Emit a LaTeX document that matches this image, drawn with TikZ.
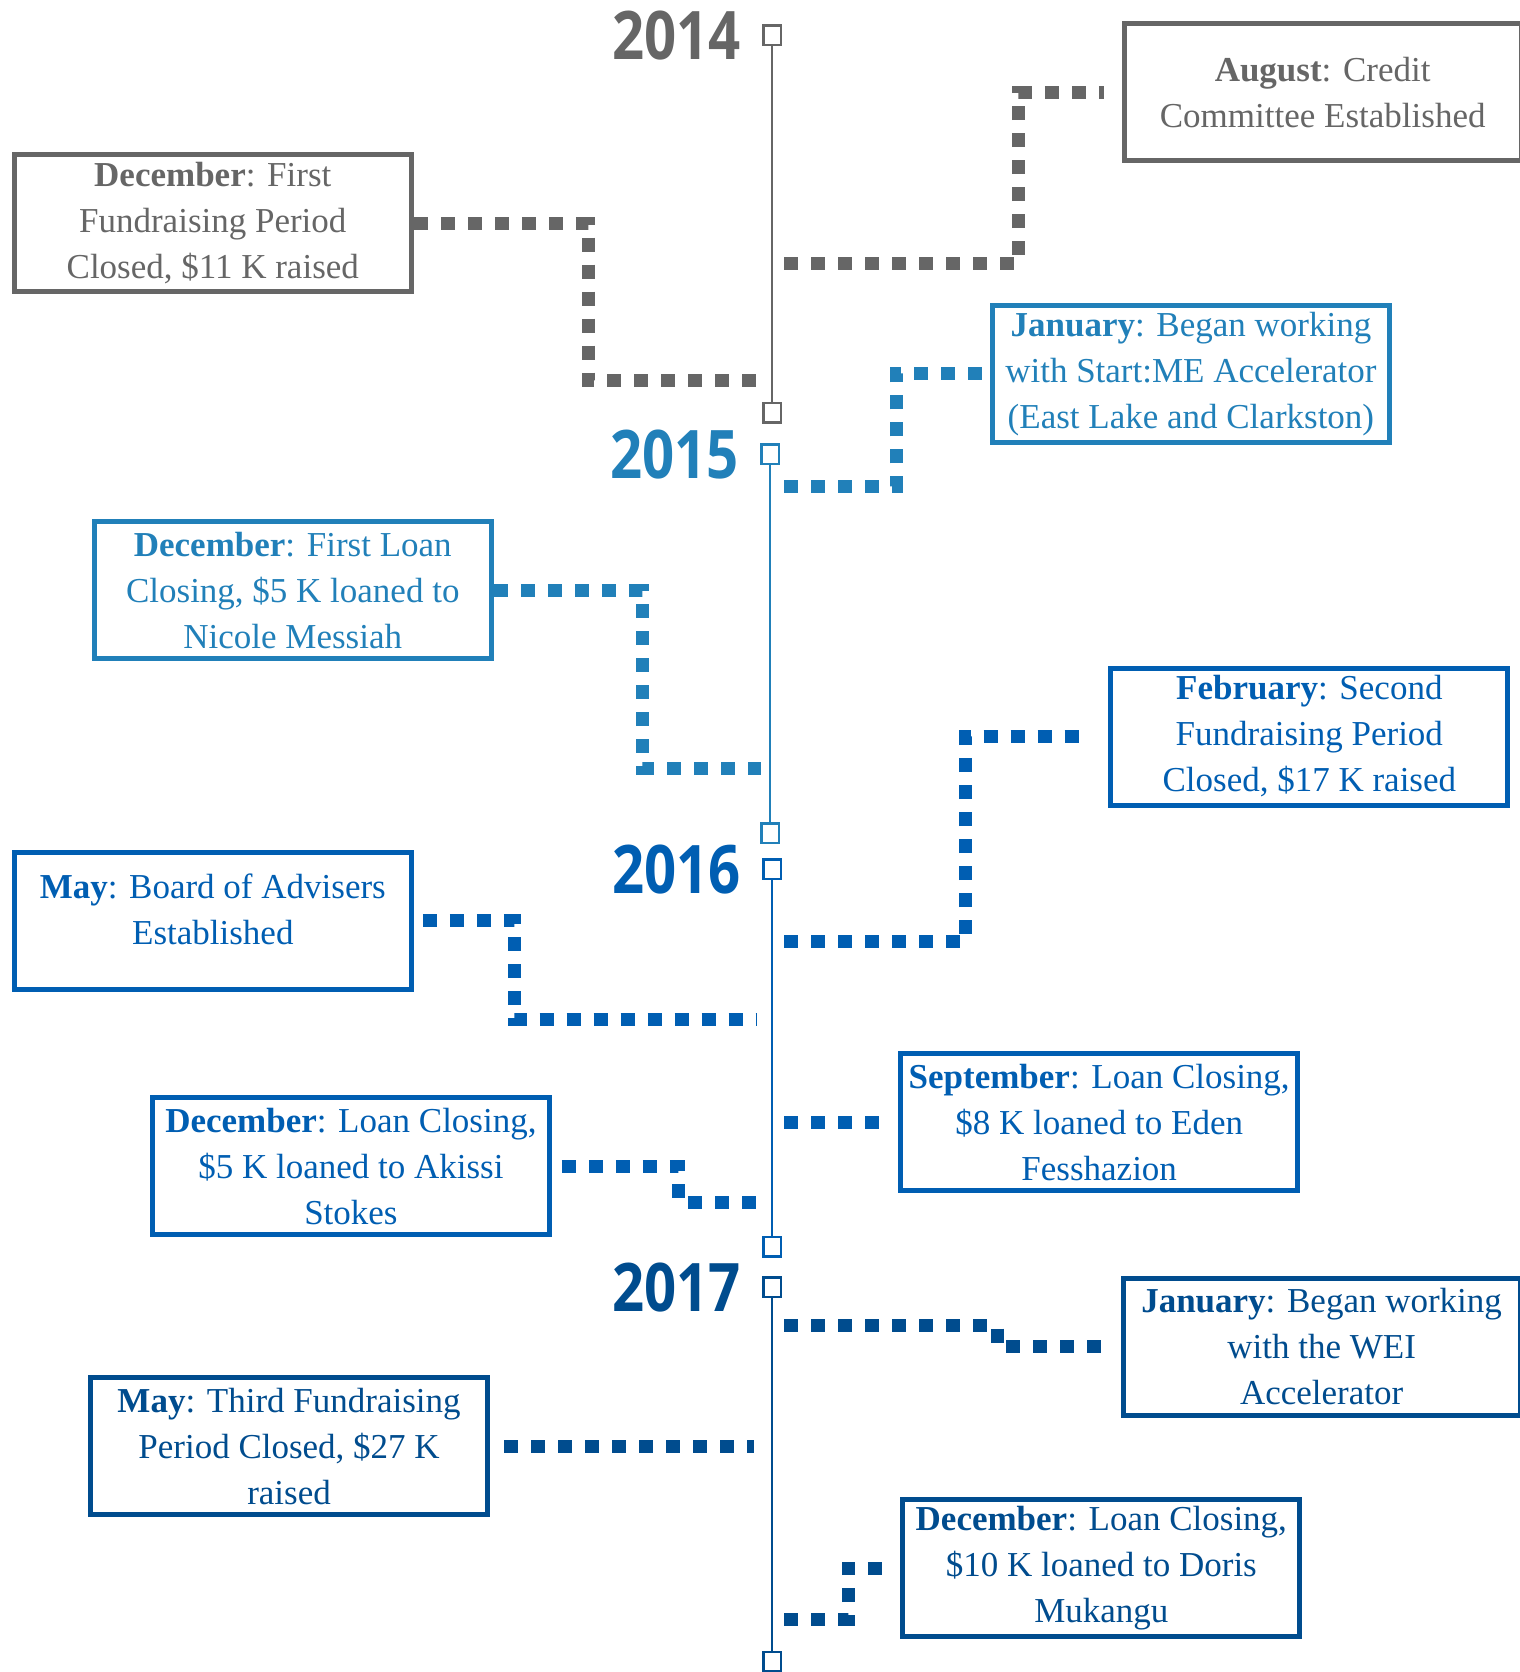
\documentclass[tikz,border=0pt]{standalone}
\usepackage{fontspec}
\setmainfont{Liberation Serif}
\newfontfamily\yearfont[FakeStretch=0.84]{Open Sans}
\usetikzlibrary{positioning}
\usetikzlibrary{calc}
\definecolor{grey14}{HTML}{666666}
\definecolor{blue15}{HTML}{2180B9}
\definecolor{blue16}{HTML}{005EB2}
\definecolor{blue17}{HTML}{004C8E}

\begin{document}
\begin{tikzpicture}[x=1.0667pt,y=-1.0667pt,
		event/.style={draw, line width=5pt, minimum width=397pt, minimum height=137pt, inner sep=0pt, align=center, fill=white, font=\fontsize{35}{46}\selectfont},
		ev14/.style={event, draw=grey14, text=grey14},
		ev15/.style={event, draw=blue15, text=blue15},
		ev16/.style={event, draw=blue16, text=blue16},
		ev17/.style={event, draw=blue17, text=blue17},
		tick/.style={draw, fill=white, line width=2.5pt, minimum width=17.5pt, minimum height=19.5pt, inner sep=0pt},
		year/.style={inner sep=0pt, font=\yearfont\bfseries\fontsize{67}{67}\selectfont},
		dots/.style={line width=13pt, dash pattern=on 14pt off 13pt},
		axis/.style={line width=2pt}]
		\useasboundingbox (0,0) rectangle (1425,1567.5);

		% Timeline
		\node [tick, draw=grey14] at (724,33) (m14a) {};
		\node [tick, draw=grey14] at (724,387) (m14b) {};
		\node [tick, draw=blue15] at (722,426) (m15a) {};
		\node [tick, draw=blue15] at (722,781) (m15b) {};
		\node [tick, draw=blue16] at (724,815) (m16a) {};
		\node [tick, draw=blue16] at (724,1169) (m16b) {};
		\node [tick, draw=blue17] at (724,1207) (m17a) {};
		\node [tick, draw=blue17] at (724,1558) (m17b) {};
		\draw [axis, grey14] (m14a) -- (m14b); \draw [axis, blue15] (m15a) -- (m15b); \draw [axis, blue16] (m16a) -- (m16b); \draw [axis, blue17] (m17a) -- (m17b);

		% Years
		\node [year, text=grey14, left=21pt of m14a] (y14) {2014};
		\node [year, text=blue15, left=21pt of m15a] (y15) {2015};
		\node [year, text=blue16, left=21pt of m16a] (y16) {2016};
		\node [year, text=blue17, left=21pt of m17a] (y17) {2017};

		% Events
		\node [ev14] at (1240,86.5) (aug14) {\textbf{August}: Credit\\Committee Established};
		\node [ev14] at (199.5,209.5) (dec14) {\textbf{December}: First\\Fundraising Period\\Closed, \$11 K raised};
		\node [ev15] at (1116.5,350.5) (jan15) {\textbf{January}: Began working\\with Start:ME Accelerator\\(East Lake and Clarkston)};
		\node [ev15] at (274.5,553.5) (dec15) {\textbf{December}: First Loan\\Closing, \$5 K loaned to\\Nicole Messiah};
		\node [ev16] at (1227.5,690.5) (feb16) {\textbf{February}: Second\\Fundraising Period\\Closed, \$17 K raised};
		\node [ev16, text depth=22pt] at (199.5,863) (may16) {\textbf{May}: Board of Advisers\\Established};
		\node [ev16] at (1030.5,1052) (sep16) {\textbf{September}: Loan Closing,\\\$8 K loaned to Eden\\Fesshazion};
		\node [ev16] at (329,1093.5) (dec16) {\textbf{December}: Loan Closing,\\\$5 K loaned to Akissi\\Stokes};
		\node [ev17] at (1239,1262.5) (jan17) {\textbf{January}: Began working\\with the WEI\\Accelerator};
		\node [ev17] at (271,1356) (may17) {\textbf{May}: Third Fundraising\\Period Closed, \$27 K\\raised};
		\node [ev17] at (1032.5,1470) (dec17) {\textbf{December}: Loan Closing,\\\$10 K loaned to Doris\\Mukangu};

		% Ends on the timeline
		\coordinate (e1) at (713,357); \coordinate (e2) at (735,247); \coordinate (e3) at (735,456); \coordinate (e4) at (713,720);
		\coordinate (e5) at (735,883); \coordinate (e6) at (710,956); \coordinate (e7) at (735,1052); \coordinate (e8) at (712,1127);
		\coordinate (e9) at (735,1243); \coordinate (e10) at (707,1356); \coordinate (e11) at (735,1518);

		% Connections
		\draw [dots, grey14] (dec14.east) -- ++(164,0) |- (e1); \draw [dots, grey14, shorten >=18pt] (e2) -- ++(220,0) |- (aug14.west);
		\draw [dots, blue15] (e3) -- ++(105,0) |- (jan15.west); \draw [dots, blue15] (dec15.east) -- ++(139,0) |- (e4);
		\draw [dots, blue16, shorten >=20pt] (e5) -- ++(170,0) |- (feb16.west); \draw [dots, blue16, shorten <=9pt] (may16.east) -- ++(94,0) |- (e6);
		\draw [dots, blue16, shorten >=16pt] (e7) -- (sep16); \draw [dots, blue16, shorten <=10pt] (dec16.east) -- ++(119,0) |- (e8);
		\draw [dots, blue17, shorten >=10pt] (e9) -- ++(200,0) |- (jan17.west); \draw [dots, blue17, shorten <=14pt] (may17) -- (e10);
		\draw [dots, blue17, shorten >=14pt] (e11) -- ++(60,0) |- (dec17.west);
\end{tikzpicture}
\end{document}
